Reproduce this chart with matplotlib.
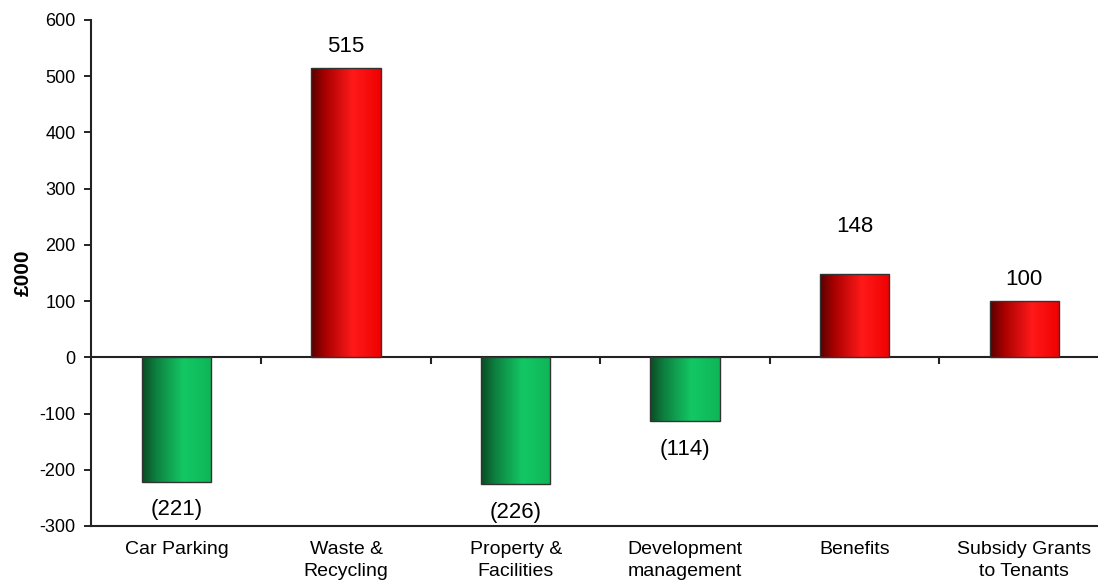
import numpy as np
import matplotlib
matplotlib.use('Agg')
import matplotlib.pyplot as plt
from matplotlib.colors import LinearSegmentedColormap

plt.rcParams['font.family'] = ['Liberation Sans', 'DejaVu Sans']
plt.rcParams['axes.unicode_minus'] = False

#%% data
categories = ['Car Parking', 'Waste &\nRecycling', 'Property &\nFacilities',
              'Development\nmanagement', 'Benefits', 'Subsidy Grants\nto Tenants']
values = [-221, 515, -226, -114, 148, 100]
yticks = [-300, -200, -100, 0, 100, 200, 300, 400, 500, 600]

# label gap from the bar end, in points (Benefits label sits higher in the original)
label_gap = [12.5, 8, 12.5, 12.5, 27, 8]

#%% gradient maps for the bars (dark left edge, bright highlight, slightly darker right)
red_cmap = LinearSegmentedColormap.from_list(
    'red_bar', [(0, '#580000'), (0.2, '#a80000'), (0.6, '#ff1a1a'), (1, '#f00000')])
green_cmap = LinearSegmentedColormap.from_list(
    'green_bar', [(0, '#0b4a24'), (0.2, '#0d8040'), (0.6, '#13c864'), (1, '#0fb558')])
grad = np.linspace(0, 1, 256).reshape(1, -1)

fig = plt.figure(figsize=(10.98, 5.82), dpi=100)
ax = fig.add_axes([91/1098, 1-526/582, 1-91/1098, (526-20)/582])

x = np.arange(len(categories))
bars = ax.bar(x, values, width=0.41, color='none', edgecolor='#333333', linewidth=1.0, zorder=3)

for b, v, g in zip(bars, values, label_gap):
    bb = b.get_bbox()
    cmap = red_cmap if v > 0 else green_cmap
    im = ax.imshow(grad, cmap=cmap, aspect='auto', extent=[bb.x0, bb.x1, bb.y0, bb.y1],
                   zorder=2, interpolation='bilinear')
    im.set_clip_path(b)
    # value label, negatives shown in brackets
    if v >= 0:
        ax.annotate('%d' % v, (b.get_x() + b.get_width()/2, v), xytext=(0, g),
                    textcoords='offset points', ha='center', va='bottom', fontsize=16)
    else:
        ax.annotate('(%d)' % abs(v), (b.get_x() + b.get_width()/2, v), xytext=(0, -g),
                    textcoords='offset points', ha='center', va='top', fontsize=16)

ax.set_xlim(-0.505, 5.435)
ax.set_ylim(-300, 600)
ax.set_yticks(yticks)
ax.tick_params(axis='y', labelsize=13, length=5, width=1.2, direction='out', pad=6)
ax.set_xticks(x)
ax.set_xticklabels(categories, fontsize=14, linespacing=1.4)
ax.tick_params(axis='x', length=0, pad=11)

for s in ['top', 'right']:
    ax.spines[s].set_visible(False)
ax.spines['left'].set_linewidth(1.5)
ax.spines['bottom'].set_linewidth(1.5)
ax.spines['left'].set_color('#222222')
ax.spines['bottom'].set_color('#222222')

# zero line with category separator ticks
zero_ax = ax.secondary_xaxis(300/900)
zero_ax.set_xticks(x[:-1] + 0.5)
zero_ax.set_xticklabels([])
zero_ax.tick_params(length=5, width=1.5, direction='out', color='#222222')
zero_ax.spines['bottom'].set_linewidth(1.5)
zero_ax.spines['bottom'].set_color('#222222')

ax.set_ylabel('£000', fontsize=15, fontweight='bold')
ax.yaxis.set_label_coords(-0.058, 0.5)

fig.savefig('out.png', dpi=100)
